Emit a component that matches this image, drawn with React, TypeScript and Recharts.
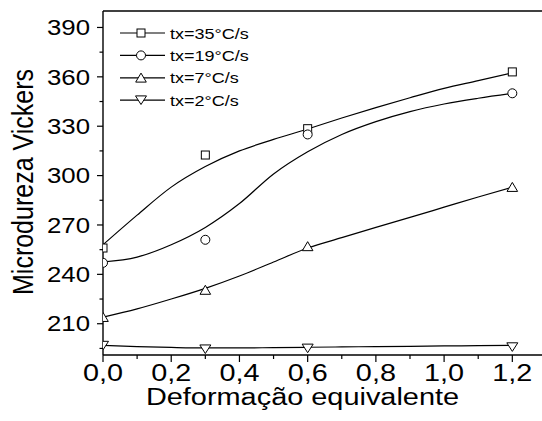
import React from "react";
import {
  ComposedChart,
  Line,
  Scatter,
  XAxis,
  YAxis,
  Legend,
  Label,
  ReferenceLine,
} from "recharts";

// measured points (Deformação equivalente -> HV)
const deformacao = [0, 0.3, 0.6, 1.2];
const hv35 = [256, 312.5, 328.5, 363];
const hv19 = [247, 261, 325, 350];
const hv7 = [214, 230.5, 257, 293];
const hv2 = [196.7, 194.5, 195, 195.8];

// fitted curves
const curveX = [0, 0.1, 0.2, 0.3, 0.4, 0.5, 0.6, 0.7, 0.8, 0.9, 1.0, 1.1, 1.2];
const fit35 = [258, 276, 293, 305.5, 315, 322, 328.3, 335, 341.3, 347.3, 353, 357.7, 362.5];
const fit19 = [247.5, 250.5, 258, 268.5, 283, 301, 314.5, 325, 332.8, 338.9, 343.5, 347, 350];
const fit7 = [214, 219, 225, 231.5, 239, 247.5, 256, 262.3, 268.5, 274.6, 280.8, 287, 293];
const fit2 = [196.8, 196.1, 195.6, 195.3, 195.3, 195.5, 195.7, 195.9, 196.1, 196.3, 196.5, 196.7, 196.9];

const xTicks = [0, 0.1, 0.2, 0.3, 0.4, 0.5, 0.6, 0.7, 0.8, 0.9, 1.0, 1.1, 1.2];
const yTicks = [195, 210, 225, 240, 255, 270, 285, 300, 315, 330, 345, 360, 375, 390];

const legendLabels = ["tx=35°C/s", "tx=19°C/s", "tx=7°C/s", "tx=2°C/s"];

const FONT = "'Liberation Sans', Arial, sans-serif";

const toPoints = (xs: number[], ys: number[]) => xs.map((x, i) => ({ x, y: ys[i] }));

type Kind = "square" | "circle" | "up" | "down";

function Marker({ cx, cy, kind }: { cx: number; cy: number; kind: Kind }) {
  const p = { fill: "#fff", stroke: "#000", strokeWidth: 1 };
  if (kind === "square") return <rect x={cx - 4} y={cy - 4} width={8} height={8} {...p} />;
  if (kind === "circle") return <circle cx={cx} cy={cy} r={4.5} {...p} />;
  if (kind === "up")
    return <polygon points={`${cx - 5.3},${cy + 4.3} ${cx + 5.3},${cy + 4.3} ${cx},${cy - 4.7}`} {...p} />;
  return <polygon points={`${cx - 5.5},${cy - 4.3} ${cx + 5.5},${cy - 4.3} ${cx},${cy + 4.3}`} {...p} />;
}

const shape = (kind: Kind) => (props: any) => <Marker cx={props.cx} cy={props.cy} kind={kind} />;

function YTick({ x, y, payload }: any) {
  const v = payload.value as number;
  const major = (v - 210) % 30 === 0;
  return (
    <g>
      <line x1={x - (major ? 6 : 3.5)} x2={x} y1={y} y2={y} stroke="#000" strokeWidth={1.2} />
      {major && (
        <text
          transform={`translate(${x - 13},${y + 7.7}) scale(1.2,1)`}
          textAnchor="end"
          fontSize={21.5}
          fontFamily={FONT}
          fill="#000"
        >
          {v}
        </text>
      )}
    </g>
  );
}

function XTick({ x, y, payload }: any) {
  const v = payload.value as number;
  const major = Math.round(v * 10) % 2 === 0;
  return (
    <g>
      <line x1={x} x2={x} y1={y} y2={y + (major ? 7 : 4)} stroke="#000" strokeWidth={1.2} />
      {major && (
        <text
          transform={`translate(${x},${y + 25.5}) scale(1.2,1)`}
          textAnchor="middle"
          fontSize={24}
          fontFamily={FONT}
          fill="#000"
        >
          {v.toFixed(1).replace(".", ",")}
        </text>
      )}
    </g>
  );
}

const legendKinds: Kind[] = ["square", "circle", "up", "down"];

function LegendBox() {
  return (
    <svg width={170} height={95} style={{ display: "block" }}>
      {legendLabels.map((label, i) => {
        const cy = 13 + i * 22.4;
        return (
          <g key={label}>
            <line x1={10} x2={55} y1={cy} y2={cy} stroke="#000" strokeWidth={1.2} />
            <Marker cx={31} cy={cy} kind={legendKinds[i]} />
            <text
              transform={`translate(60,${cy + 5.5}) scale(1.2,1)`}
              fontSize={15}
              fontFamily={FONT}
              fill="#000"
            >
              {label}
            </text>
          </g>
        );
      })}
    </svg>
  );
}

export default function App() {
  return (
    <div style={{ position: "absolute", left: 0, top: 0, background: "#fff" }}>
      <ComposedChart
        width={542}
        height={421}
        margin={{ top: 11, right: 0, bottom: 0, left: 0 }}
      >
        <XAxis
          dataKey="x"
          type="number"
          domain={[0, 1.287]}
          ticks={xTicks}
          interval={0}
          height={66}
          tickSize={0}
          tickMargin={0}
          tickLine={false}
          tick={<XTick />}
          axisLine={{ stroke: "#000", strokeWidth: 1.4 }}
          allowDataOverflow
        >
          <Label
            content={() => (
              <text
                transform="translate(302.5,405) scale(1.23,1)"
                textAnchor="middle"
                fontSize={23.5}
                fontFamily={FONT}
                fill="#000"
              >
                Deformação equivalente
              </text>
            )}
          />
        </XAxis>
        <YAxis
          dataKey="y"
          type="number"
          domain={[191, 400]}
          ticks={yTicks}
          interval={0}
          width={103}
          tickSize={0}
          tickMargin={0}
          tickLine={false}
          tick={<YTick />}
          axisLine={{ stroke: "#000", strokeWidth: 1.4 }}
          allowDataOverflow
        >
          <Label
            content={() => (
              <text
                transform="translate(33,182) scale(1.15,1) rotate(-90)"
                textAnchor="middle"
                fontSize={25}
                fontFamily={FONT}
                fill="#000"
              >
                Microdureza Vickers
              </text>
            )}
          />
        </YAxis>
        <ReferenceLine y={400} stroke="#000" strokeWidth={1.5} ifOverflow="visible" />
        <Legend
          verticalAlign="middle"
          align="center"
          layout="horizontal"
          wrapperStyle={{ left: 110, top: 20, width: 170, height: 95 }}
          content={() => <LegendBox />}
        />
        <Line data={toPoints(curveX, fit35)} dataKey="y" type="monotone" stroke="#000" strokeWidth={1.2} dot={false} isAnimationActive={false} />
        <Line data={toPoints(curveX, fit19)} dataKey="y" type="monotone" stroke="#000" strokeWidth={1.2} dot={false} isAnimationActive={false} />
        <Line data={toPoints(curveX, fit7)} dataKey="y" type="monotone" stroke="#000" strokeWidth={1.2} dot={false} isAnimationActive={false} />
        <Line data={toPoints(curveX, fit2)} dataKey="y" type="monotone" stroke="#000" strokeWidth={1.2} dot={false} isAnimationActive={false} />
        <Scatter data={toPoints(deformacao, hv35)} dataKey="y" shape={shape("square")} isAnimationActive={false} />
        <Scatter data={toPoints(deformacao, hv19)} dataKey="y" shape={shape("circle")} isAnimationActive={false} />
        <Scatter data={toPoints(deformacao, hv7)} dataKey="y" shape={shape("up")} isAnimationActive={false} />
        <Scatter data={toPoints(deformacao, hv2)} dataKey="y" shape={shape("down")} isAnimationActive={false} />
      </ComposedChart>
    </div>
  );
}
